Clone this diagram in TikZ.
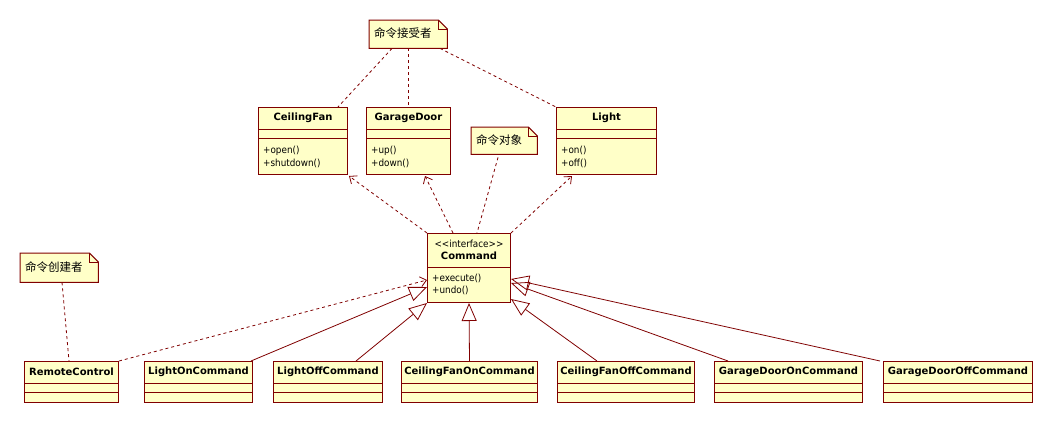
\documentclass[tikz,border=0pt]{standalone}
\usepackage{fontspec}
\setmainfont{DejaVu Sans}
\newfontfamily\condfont{DejaVu Sans Condensed}
\newfontfamily\cjk{Noto Sans CJK SC}
\usetikzlibrary{arrows.meta}
\definecolor{boxfill}{RGB}{255,255,200}
\definecolor{umlline}{RGB}{128,0,0}
\tikzset{
  box/.style={draw=umlline, fill=boxfill, line width=1pt, inner sep=0pt, anchor=north west},
  divider/.style={draw=umlline, line width=1pt},
  clstitle/.style={font=\fontsize{10}{12}\selectfont\bfseries, inner sep=0pt},
  clsops/.style={font=\condfont\fontsize{9.8}{13}\selectfont, inner sep=0pt, align=left, anchor=west},
  notebg/.style={inner sep=0pt, anchor=north west},
  notetext/.style={font=\cjk\fontsize{11.5}{13}\selectfont, inner sep=0pt, anchor=west},
  dashline/.style={draw=umlline, line width=0.8pt, dash pattern=on 3pt off 3pt},
  depend/.style={dashline, -{Straight Barb[length=6pt,width=10pt]}},
  realize/.style={draw=umlline, line width=0.8pt, -{Triangle[open,length=18pt,width=15pt]}},
}
\newcommand{\umlclassfull}[7]{%
  \node[box, minimum width=#4pt, minimum height=#5pt] (#1) at (#2,#3) {};
  \draw[divider] ([yshift=-22pt]#1.north west) -- ([yshift=-22pt]#1.north east);
  \draw[divider] ([yshift=-31pt]#1.north west) -- ([yshift=-31pt]#1.north east);
  \node[clstitle] (#1-t) at ([yshift=-11pt]#1.north) {#6};
  \node[clsops] (#1-o) at ([xshift=5pt,yshift=-49.5pt]#1.north west) {#7};
}
\newcommand{\umlclassbare}[5]{%
  \node[box, minimum width=#4pt, minimum height=41pt] (#1) at (#2,#3) {};
  \draw[divider] ([yshift=-22pt]#1.north west) -- ([yshift=-22pt]#1.north east);
  \draw[divider] ([yshift=-31pt]#1.north west) -- ([yshift=-31pt]#1.north east);
  \node[clstitle] (#1-t) at ([yshift=-11pt]#1.north) {#5};
}
\newcommand{\umlnote}[6]{%
  \node[notebg, minimum width=#4pt, minimum height=#5pt] (#1) at (#2,#3) {};
  \filldraw[fill=boxfill, draw=umlline, line width=1pt]
    (#1.north west) -- ([xshift=-9pt]#1.north east) -- ([yshift=-9pt]#1.north east)
    -- (#1.south east) -- (#1.south west) -- cycle;
  \draw[umlline, line width=0.8pt] ([xshift=-9pt]#1.north east) -- ([xshift=-9pt,yshift=-9pt]#1.north east) -- ([yshift=-9pt]#1.north east);
  \node[notetext] (#1-t) at ([xshift=5pt,yshift=1pt]#1.west) {#6};
}
\begin{document}
\begin{tikzpicture}[x=1pt,y=-1pt]
\useasboundingbox[fill=white] (0,0) rectangle (1052,423);

% receivers
\umlclassfull{cf}{258}{107}{89}{67}{CeilingFan}{+open()\\+shutdown()}
\umlclassfull{gd}{366}{107}{84}{67}{GarageDoor}{+up()\\+down()}
\umlclassfull{li}{556}{107}{100}{67}{Light}{+on()\\+off()}

% command interface
\node[box, minimum width=83pt, minimum height=69pt] (cmd) at (427,233) {};
\draw[divider] ([yshift=-34pt]cmd.north west) -- ([yshift=-34pt]cmd.north east);
\node[font=\condfont\fontsize{9.8}{11}\selectfont, inner sep=0pt] (cmd-s) at ([yshift=-11pt]cmd.north) {<{}<interface>{}>};
\node[clstitle] (cmd-t) at ([yshift=-23pt]cmd.north) {Command};
\node[clsops, font=\condfont\fontsize{9.8}{11.5}\selectfont] (cmd-o) at ([xshift=5pt,yshift=-51.5pt]cmd.north west) {+execute()\\+undo()};

% concrete classes
\umlclassbare{rc}{24}{361}{94}{RemoteControl}
\umlclassbare{lon}{144}{361}{108}{LightOnCommand}
\umlclassbare{loff}{273}{361}{109}{LightOffCommand}
\umlclassbare{cfon}{401}{361}{136}{CeilingFanOnCommand}
\umlclassbare{cfoff}{557}{361}{137}{CeilingFanOffCommand}
\umlclassbare{gon}{714}{361}{148}{GarageDoorOnCommand}
\umlclassbare{goff}{883}{361}{149}{GarageDoorOffCommand}

% notes
\umlnote{n1}{369}{20}{78}{28}{命令接受者}
\umlnote{n2}{471}{127}{66}{27}{命令对象}
\umlnote{n3}{20}{253}{78}{29}{命令创建者}

% note links
\draw[dashline] ([xshift=23pt]n1.south west) -- ([xshift=-10pt]cf.north east);
\draw[dashline] ([xshift=39pt]n1.south west) -- ([xshift=42pt]gd.north west);
\draw[dashline] ([xshift=71pt]n1.south west) -- (li.north west);
\draw[dashline] ([xshift=27pt,yshift=-3pt]n2.south west) -- ([xshift=50pt]cmd.north west);
\draw[dashline] ([xshift=42pt]n3.south west) -- ([xshift=45pt]rc.north west);

% dependencies
\draw[depend] (cmd.north west) -- ([xshift=1pt,yshift=-1pt]cf.south east);
\draw[depend] ([xshift=26pt]cmd.north west) -- ([xshift=59pt,yshift=-1pt]gd.south west);
\draw[depend] (cmd.north east) -- ([xshift=16pt,yshift=-1pt]li.south west);
\draw[depend] (rc.north east) -- ([yshift=23pt]cmd.south west);

% realizations
\draw[realize] ([xshift=-2pt]lon.north east) -- ([yshift=16pt]cmd.south west);
\draw[realize] ([xshift=-27pt]loff.north east) -- (cmd.south west);
\draw[realize] (cfon.north) -- (cmd.south);
\draw[realize] ([xshift=40pt]cfoff.north west) -- ([yshift=4pt]cmd.south east);
\draw[realize] ([xshift=14pt]gon.north west) -- ([yshift=20pt]cmd.south east);
\draw[realize] ([xshift=-3pt]goff.north west) -- ([yshift=24pt]cmd.south east);
\end{tikzpicture}
\end{document}
